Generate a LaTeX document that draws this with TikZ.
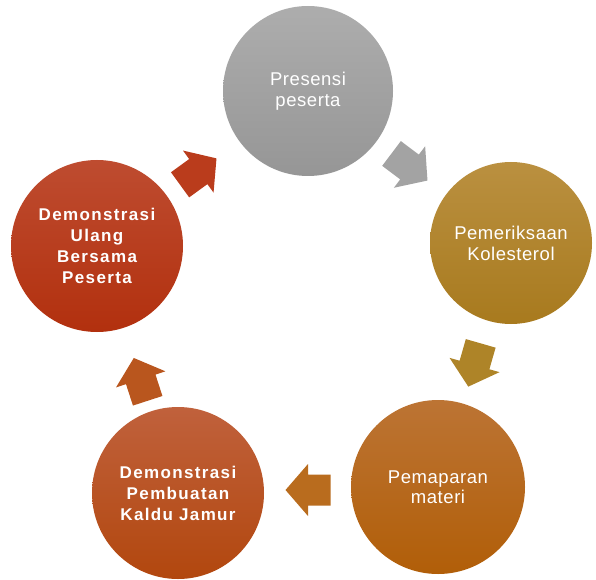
\documentclass[tikz,border=0pt]{standalone}
\usepackage{fontspec}
\setmainfont{Liberation Sans}
\newfontfamily\regfam[LetterSpace=3]{Liberation Sans}
\newfontfamily\boldfam[LetterSpace=8]{Liberation Sans}
\newcommand\regfont{\regfam\fontsize{18.5}{21}\selectfont}
\newcommand\boldfont{\boldfam\bfseries\fontsize{17}{21}\selectfont}
\usetikzlibrary{calc}
\definecolor{grayT}{HTML}{ADADAD}
\definecolor{grayB}{HTML}{969696}
\definecolor{goldT}{HTML}{BA9040}
\definecolor{goldB}{HTML}{A87A1E}
\definecolor{orngT}{HTML}{BC7434}
\definecolor{orngB}{HTML}{B15E08}
\definecolor{rorgT}{HTML}{C0613C}
\definecolor{rorgB}{HTML}{B2470E}
\definecolor{redT}{HTML}{BE4C30}
\definecolor{redB}{HTML}{B2300E}
\definecolor{arrGray}{HTML}{A3A3A3}
\definecolor{arrGold}{HTML}{AE8428}
\definecolor{arrOrng}{HTML}{B96C1E}
\definecolor{arrRorg}{HTML}{B9561E}
\definecolor{arrRed}{HTML}{BA3C1C}
\tikzset{
  stepcircle/.style={circle, inner sep=0pt, text=white, align=center, font=\regfont},
  boldcircle/.style={stepcircle, font=\boldfont},
  blockarrow/.pic={\fill[pic actions] (-22.5,-15.5) -- (0,-15.5) -- (0,-26) -- (22.5,0) -- (0,26) -- (0,15.5) -- (-22.5,15.5) -- cycle;}
}
\begin{document}
\begin{tikzpicture}[x=1pt,y=1pt]
\useasboundingbox (0,0) rectangle (596,579);
\node[stepcircle, minimum size=170pt, top color=grayT, bottom color=grayB] (pres) at (308,488) {Presensi\\peserta};
\node[stepcircle, minimum size=162pt, top color=goldT, bottom color=goldB] (kol) at (511,336) {Pemeriksaan\\Kolesterol};
\node[stepcircle, minimum size=174pt, top color=orngT, bottom color=orngB] (mat) at (438,92) {\raisebox{-6pt}{\shortstack{Pemaparan\\materi}}};
\node[boldcircle, minimum size=172pt, top color=rorgT, bottom color=rorgB] (kal) at (178,86) {Demonstrasi\\Pembuatan\\Kaldu Jamur};
\node[boldcircle, minimum size=172pt, top color=redT, bottom color=redB] (ulang) at (97,333) {Demonstrasi\\Ulang\\Bersama\\Peserta};
\pic[fill=arrGray, rotate=-37] at ($(pres)!0.5!(kol)$) {blockarrow};
\pic[fill=arrGold, rotate=-106] at ($(kol)!0.5!(mat)$) {blockarrow};
\pic[fill=arrOrng, rotate=180] at ($(mat)!0.5!(kal)$) {blockarrow};
\pic[fill=arrRorg, rotate=108] at ($(kal)!0.46!(ulang)$) {blockarrow};
\pic[fill=arrRed, rotate=36] at ($(ulang)!0.48!(pres)$) {blockarrow};
\end{tikzpicture}
\end{document}
